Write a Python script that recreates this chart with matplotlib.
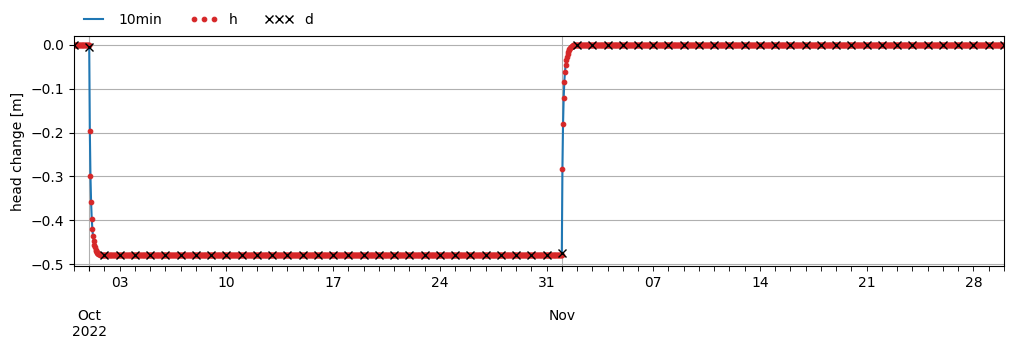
import pandas as pd
import numpy as np
import matplotlib
matplotlib.use("Agg")
import matplotlib.pyplot as plt
import matplotlib.dates as mdates
from matplotlib.ticker import FuncFormatter

# plateau levels of the head change [m]
h_before = 0.0
h_pumping = -0.48
h_after = 0.0

# hourly head change after the pump was switched on (Oct 1, 01:00 to 20:00)
drawdown_hourly = [-0.196, -0.299, -0.359, -0.396, -0.421, -0.436, -0.448, -0.456,
                   -0.462, -0.467, -0.470, -0.472, -0.474, -0.476, -0.477, -0.478,
                   -0.479, -0.479, -0.480, -0.480]

# hourly head change after the pump was switched off (Nov 1, 01:00 to 20:00)
recovery_hourly = [-0.283, -0.180, -0.121, -0.084, -0.062, -0.046, -0.035, -0.027,
                   -0.021, -0.016, -0.012, -0.009, -0.007, -0.005, -0.004, -0.003,
                   -0.002, -0.001, -0.001, 0.000]

# daily values, Sep 30 to Nov 30
daily_values = [0.0, -0.005] + [-0.48] * 30 + [-0.475] + [0.0] * 29

# build hourly series
hours = pd.date_range("2022-09-30 00:00", "2022-11-30 00:00", freq="h")
hourly = pd.Series(np.nan, index=hours)
hourly[:"2022-10-01 00:00"] = h_before
hourly["2022-10-01 01:00":"2022-10-01 20:00"] = drawdown_hourly
hourly["2022-10-01 21:00":"2022-11-01 00:00"] = h_pumping
hourly["2022-11-01 01:00":"2022-11-01 20:00"] = recovery_hourly
hourly["2022-11-01 21:00":] = h_after

days = pd.date_range("2022-09-30", "2022-11-30", freq="D")
daily = pd.Series(daily_values, index=days)

fig = plt.figure(figsize=(10.13, 3.52), dpi=100)
ax = fig.add_axes([0.073, 0.244, 0.918, 0.654])

ax.plot(hourly.index, hourly.values, color="tab:blue", label="10min")
ax.plot(hourly.index, hourly.values, linestyle="none", marker="o", markersize=3.3,
        markeredgewidth=0.8, color="tab:red", label="h")
ax.plot(daily.index, daily.values, linestyle="none", marker="x", markersize=6,
        color="k", label="d")

ax.set_xlim(pd.Timestamp("2022-09-30"), pd.Timestamp("2022-11-30"))
ax.set_ylim(-0.5046, 0.0205)
ax.set_yticks([-0.5, -0.4, -0.3, -0.2, -0.1, 0.0])
ax.set_ylabel("head change [m]")


def month_label(x, pos):
    d = mdates.num2date(x)
    label = d.strftime("%b")
    if pos == 0:
        label += "\n" + d.strftime("%Y")
    return label


def monday_label(x, pos):
    d = mdates.num2date(x)
    if d.weekday() == 0:
        return d.strftime("%d")
    return ""


ax.xaxis.set_major_locator(mdates.MonthLocator())
ax.xaxis.set_major_formatter(FuncFormatter(month_label))
ax.xaxis.set_minor_locator(mdates.DayLocator())
ax.xaxis.set_minor_formatter(FuncFormatter(monday_label))
ax.tick_params(axis="x", which="minor", length=3.5)
ax.tick_params(axis="x", which="major", pad=27.5)

ax.grid(True)

ax.legend(loc="lower left", bbox_to_anchor=(-0.0075, 0.983), ncol=3, frameon=False,
          numpoints=3)

plt.savefig("out.png")
